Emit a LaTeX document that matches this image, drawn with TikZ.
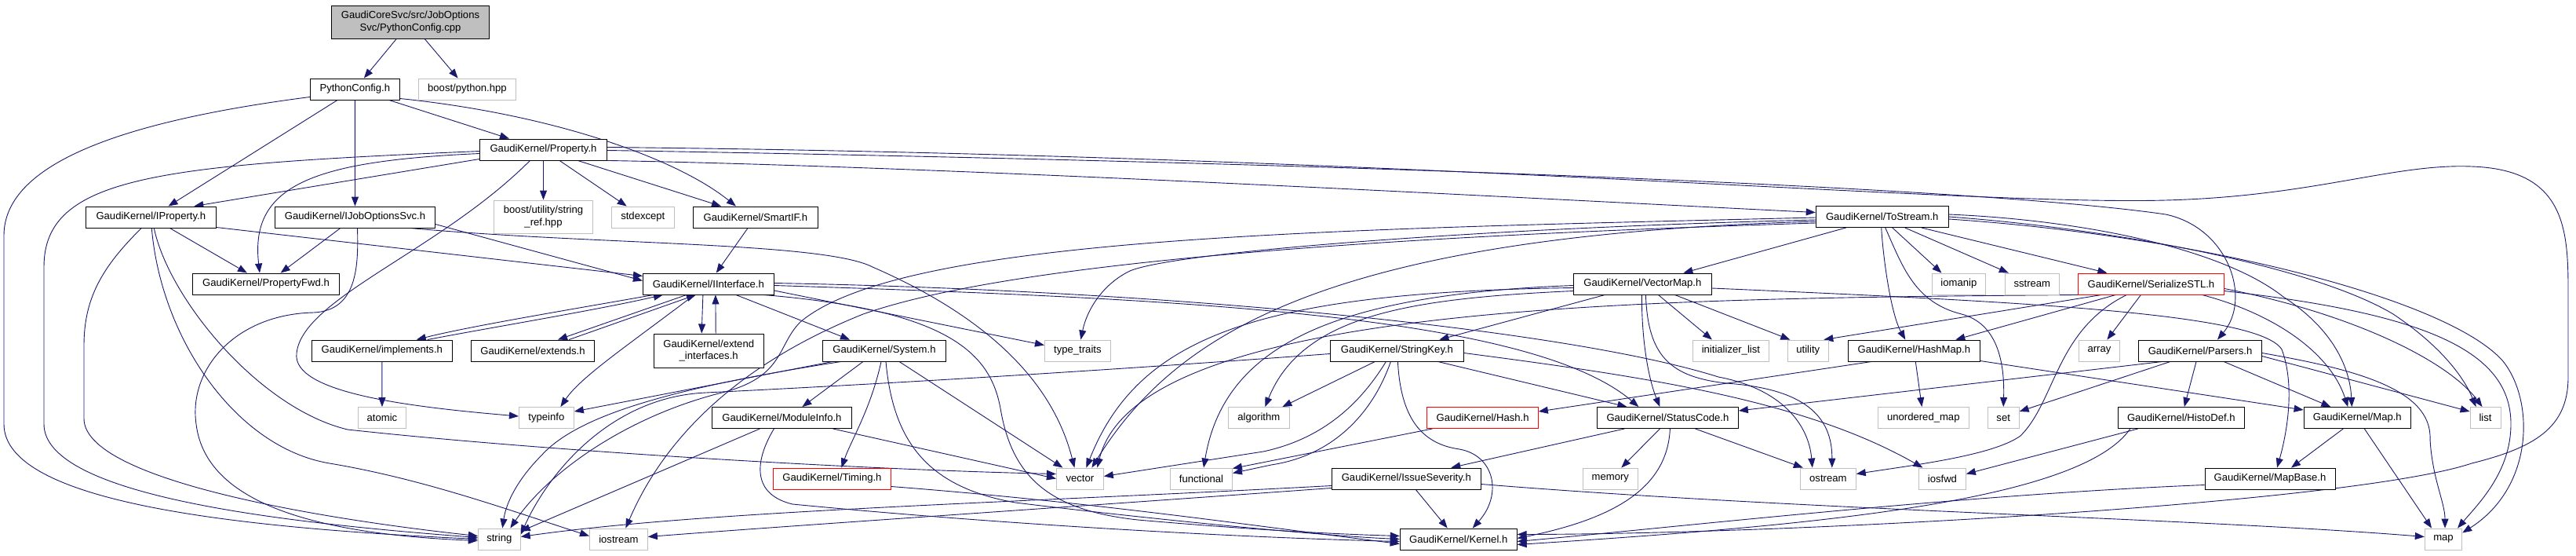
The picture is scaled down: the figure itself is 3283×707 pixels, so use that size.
\documentclass[tikz,border=0pt]{standalone}
\usepackage{fontspec}
\setmainfont{Liberation Sans}
\usetikzlibrary{arrows.meta}
\pgfdeclarelayer{bg}
\pgfsetlayers{bg,main}
\definecolor{mblue}{HTML}{191970}
\definecolor{gbox}{HTML}{BFBFBF}
\begin{document}
\begin{tikzpicture}[x=1pt,y=-1pt,
  box/.style={draw=black, fill=white, line width=0.9pt, inner sep=0pt, minimum height=27pt, align=center, font=\fontsize{13.1}{15.5}\selectfont},
  sysbox/.style={box, draw=gbox},
  redbox/.style={box, draw=red},
  edg/.style={draw=mblue, line width=0.9pt, -{Triangle[length=12pt,width=9pt]}}]
\useasboundingbox (0,0) rectangle (3283,707);
% nodes
\node[box, fill=gbox, minimum width=201pt, minimum height=42pt] (root) at (523,28) {GaudiCoreSvc/src/JobOptions\\Svc/PythonConfig.cpp};
\node[box, minimum width=114pt] (pyh) at (452.3,113.5) {PythonConfig.h};
\node[sysbox, minimum width=124pt] (bpy) at (595.4,113.5) {boost/python.hpp};
\node[box, minimum width=166pt] (iprop) at (192.3,276.5) {GaudiKernel/IProperty.h};
\node[box, minimum width=204pt] (ijob) at (452.5,276.5) {GaudiKernel/IJobOptionsSvc.h};
\node[box, minimum width=187pt] (pfwd) at (339,361.5) {GaudiKernel/PropertyFwd.h};
\node[box, minimum width=162pt] (prop) at (692.5,190.5) {GaudiKernel/Property.h};
\node[sysbox, minimum width=126pt, minimum height=42pt] (sref) at (692.5,276) {boost/utility/string\\\_ref.hpp};
\node[sysbox, minimum width=80pt] (stdex) at (819.3,276.5) {stdexcept};
\node[box, minimum width=159pt] (smart) at (962.9,276.5) {GaudiKernel/SmartIF.h};
\node[box, minimum width=167pt] (iint) at (902.9,361.5) {GaudiKernel/IInterface.h};
\node[box, minimum width=178.5pt] (impl) at (486.8,446.5) {GaudiKernel/implements.h};
\node[sysbox, minimum width=61pt] (atomic) at (487,532) {atomic};
\node[box, minimum width=157pt] (ext) at (679,446.5) {GaudiKernel/extends.h};
\node[box, minimum width=140pt, minimum height=43pt] (extif) at (903.2,446.5) {GaudiKernel/extend\\\_interfaces.h};
\node[box, minimum width=156.5pt] (sys) at (1127,446.5) {GaudiKernel/System.h};
\node[sysbox, minimum width=70pt] (typeinfo) at (696.4,532) {typeinfo};
\node[box, minimum width=178pt] (modinfo) at (996.4,532) {GaudiKernel/ModuleInfo.h};
\node[redbox, minimum width=150pt] (timing) at (1060.4,609.5) {GaudiKernel/Timing.h};
\node[sysbox, minimum width=54pt] (string) at (636.3,686.5) {string};
\node[sysbox, minimum width=74pt] (iostream) at (788.4,686.5) {iostream};
\node[sysbox, minimum width=84pt] (ttraits) at (1373.4,446.5) {type\_traits};
\node[sysbox, minimum width=60pt] (vector) at (1376.4,609.5) {vector};
\node[sysbox, minimum width=79pt] (functional) at (1531,609.5) {functional};
\node[sysbox, minimum width=78pt] (algorithm) at (1604.3,532) {algorithm};
\node[box, minimum width=176pt] (vecmap) at (2093.4,361.5) {GaudiKernel/VectorMap.h};
\node[box, minimum width=170pt] (strkey) at (1780.4,446.5) {GaudiKernel/StringKey.h};
\node[redbox, minimum width=141.5pt] (hash) at (1889.6,532) {GaudiKernel/Hash.h};
\node[box, minimum width=180pt] (status) at (2125.4,532) {GaudiKernel/StatusCode.h};
\node[box, minimum width=190pt] (issue) at (1792.3,609.5) {GaudiKernel/IssueSeverity.h};
\node[sysbox, minimum width=70pt] (memory) at (2052.3,609.5) {memory};
\node[box, minimum width=149pt] (kernel) at (1858.7,686.5) {GaudiKernel/Kernel.h};
\node[box, minimum width=169pt] (tostream) at (2398.7,276) {GaudiKernel/ToStream.h};
\node[sysbox, minimum width=68pt] (iomanip) at (2496.4,361.5) {iomanip};
\node[sysbox, minimum width=69pt] (sstream) at (2589.8,361.5) {sstream};
\node[redbox, minimum width=186pt] (serial) at (2741.4,361.5) {GaudiKernel/SerializeSTL.h};
\node[sysbox, minimum width=97pt] (initlist) at (2205.9,446.5) {initializer\_list};
\node[sysbox, minimum width=52pt] (utility) at (2304.3,446.5) {utility};
\node[box, minimum width=168pt] (hashmap) at (2439.3,446.5) {GaudiKernel/HashMap.h};
\node[sysbox, minimum width=52pt] (array) at (2675.4,446.5) {array};
\node[sysbox, minimum width=116pt] (unmap) at (2451.3,532) {unordered\_map};
\node[sysbox, minimum width=40pt] (set) at (2553.2,532) {set};
\node[sysbox, minimum width=71pt] (ostream) at (2329.8,609.5) {ostream};
\node[sysbox, minimum width=60pt] (iosfwd) at (2475.4,609.5) {iosfwd};
\node[box, minimum width=157pt] (parsers) at (2804,446.5) {GaudiKernel/Parsers.h};
\node[box, minimum width=161pt] (histodef) at (2779.8,532) {GaudiKernel/HistoDef.h};
\node[box, minimum width=136.5pt] (maph) at (3004.3,532) {GaudiKernel/Map.h};
\node[sysbox, minimum width=39pt] (list) at (3167.5,532) {list};
\node[box, minimum width=166pt] (mapbase) at (2893,609.5) {GaudiKernel/MapBase.h};
\node[sysbox, minimum width=47.5pt] (map) at (3114,686.5) {map};
\begin{pgfonlayer}{bg}
\fill[white] (0,0) rectangle (3283,707);
% root
\draw[edg] (root) -- (pyh);
\draw[edg] (root) -- (bpy);
% PythonConfig.h
\draw[edg] (pyh) -- (iprop);
\draw[edg] (pyh) -- (ijob);
\draw[edg] (pyh) -- (prop);
\draw[edg] ([yshift=-12pt]pyh.east) .. controls (700,145) and (860,200) .. ([xshift=-25pt]smart.north);
\draw[edg] ([yshift=-10pt]pyh.west) .. controls (150,155) and (5,210) .. (5,300) -- (5,540) .. controls (5,640) and (300,672) .. (string.west);
% Property.h
\draw[edg] ([yshift=-12pt]prop.west) -- ([xshift=55pt]iprop.north);
\draw[edg] ([yshift=-5pt]prop.west) .. controls (400,205) and (318,235) .. ([xshift=-8pt]pfwd.north);
\draw[edg] ([yshift=-2pt]prop.west) .. controls (200,210) and (56,225) .. (56,340) -- (56,540) .. controls (56,630) and (350,665) .. ([yshift=2pt]string.west);
\draw[edg] (prop) -- (sref);
\draw[edg] (prop) -- (stdex);
\draw[edg] (prop) -- (smart);
\draw[edg] (prop.south east) .. controls (1200,212) and (1900,250) .. ([yshift=5.5pt]tostream.west);
\draw[edg] ([yshift=-1pt]prop.east) .. controls (1600,205) and (2500,235) .. (2760,273) .. controls (2840,290) and (2870,380) .. ([xshift=22pt]parsers.north);
\draw[edg] ([yshift=3pt]prop.east) .. controls (1800,198) and (2500,262) .. (2760,255) .. controls (2950,250) and (3050,208) .. (3150,212) .. controls (3268,216) and (3273,290) .. (3273,370) -- (3273,480) .. controls (3273,545) and (3230,570) .. (3150,590) .. controls (3000,640) and (2300,680) .. ([yshift=6pt]kernel.east);
\draw[edg] ([xshift=-17pt]prop.south) .. controls (560,320) and (385,380) .. (378,450) .. controls (372,500) and (520,518) .. ([yshift=2pt]typeinfo.west);
% IProperty.h
\draw[edg] (iprop) -- (pfwd);
\draw[edg] ([yshift=-13pt]iprop.east) -- ([yshift=10pt]iint.west);
\draw[edg] ([xshift=-12pt]iprop.south) .. controls (130,340) and (107,380) .. (107,440) -- (107,533) .. controls (107,610) and (400,660) .. ([yshift=4pt]string.west);
\draw[edg] ([xshift=4pt]iprop.south) .. controls (215,380) and (330,520) .. (443,547) .. controls (700,575) and (1100,598) .. ([yshift=6pt]vector.west);
\draw[edg] ([xshift=1pt]iprop.south) .. controls (205,430) and (300,570) .. (420,590) .. controls (540,610) and (650,650) .. ([yshift=4pt]iostream.west);
% IJobOptionsSvc.h
\draw[edg] (ijob) -- (pfwd);
\draw[edg] ([yshift=-9pt]ijob.east) -- ([yshift=4pt]iint.west);
\draw[edg] ([xshift=3pt]ijob.south) .. controls (457,340) and (455,395) .. (400,398) .. controls (300,400) and (240,470) .. (250,540) .. controls (262,640) and (400,680) .. ([yshift=-2pt]string.west);
\draw[edg] ([xshift=70pt]ijob.south) .. controls (760,312) and (1050,308) .. (1112,340) .. controls (1250,400) and (1340,480) .. ([xshift=-7pt]vector.north);
% SmartIF.h
\draw[edg] (smart) -- (iint);
% IInterface.h
\draw[edg] ([xshift=-70pt]iint.south) .. controls (740,392) and (600,415) .. ([xshift=44pt]impl.north);
\draw[edg] ([xshift=58pt]impl.north) .. controls (620,418) and (760,395) .. ([xshift=-58pt]iint.south);
\draw[edg] ([xshift=-28pt]iint.south) -- ([xshift=32pt]ext.north);
\draw[edg] ([xshift=46pt]ext.north) -- ([xshift=-16pt]iint.south);
\draw[edg] ([xshift=-7pt]iint.south) -- ([xshift=-9pt]extif.north);
\draw[edg] ([xshift=9pt]extif.north) -- ([xshift=9pt]iint.south);
\draw[edg] ([xshift=35pt]iint.south) -- ([xshift=-44pt]sys.north);
\draw[edg] ([xshift=-18pt]iint.south) .. controls (800,440) and (740,480) .. ([xshift=18pt]typeinfo.north);
\draw[edg] ([yshift=-8.5pt]iint.east) -- ([yshift=7pt]ttraits.west);
\draw[edg] ([yshift=-2pt]iint.east) .. controls (1500,380) and (1950,400) .. ([xshift=-37pt]status.north);
\draw[edg] ([yshift=1pt]iint.east) .. controls (1500,370) and (2000,420) .. (2190,480) .. controls (2270,495) and (2305,540) .. ([xshift=-20pt]ostream.north);
\draw[edg] ([xshift=70pt]iint.south) .. controls (1210,395) and (1262,450) .. (1275,520) .. controls (1290,610) and (1340,650) .. (1450,662) .. controls (1600,675) and (1700,680) .. ([yshift=4pt]kernel.west);
% implements.h
\draw[edg] (impl) -- (atomic);
% System.h
\draw[edg] ([xshift=-66pt]sys.south) -- ([yshift=8pt]typeinfo.east);
\draw[edg] ([xshift=-55pt]sys.south) .. controls (850,495) and (735,530) .. (690,580) .. controls (660,610) and (645,640) .. ([xshift=4pt]string.north);
\draw[edg] ([xshift=-27pt]sys.south) -- ([xshift=26pt]modinfo.north);
\draw[edg] ([xshift=-4pt]sys.south) .. controls (1110,520) and (1085,560) .. ([xshift=12pt]timing.north);
\draw[edg] ([xshift=2pt]sys.south) .. controls (1138,560) and (1180,620) .. (1294,640) .. controls (1500,665) and (1700,683) .. (kernel.west);
\draw[edg] ([xshift=19pt]sys.south) -- ([xshift=-22pt]vector.north);
% ModuleInfo.h
\draw[edg] ([xshift=-28pt]modinfo.south) -- ([yshift=10pt]string.east);
\draw[edg] ([xshift=-10pt]modinfo.south) .. controls (960,590) and (960,630) .. (1010,642) .. controls (1300,670) and (1600,685) .. ([yshift=-3pt]kernel.west);
\draw[edg] ([xshift=65pt]modinfo.south) -- (vector.west);
% Timing.h
\draw[edg] ([yshift=-10pt]timing.east) .. controls (1400,640) and (1600,670) .. ([yshift=-6pt]kernel.west);
% StringKey.h
\draw[edg] ([yshift=-4pt]strkey.west) .. controls (1300,480) and (1000,495) .. (900,500) .. controls (780,505) and (700,600) .. ([yshift=6pt]string.east);
\draw[edg] ([xshift=-28pt]strkey.south) -- ([xshift=30pt]algorithm.north);
\draw[edg] ([xshift=-14pt]strkey.south) .. controls (1730,520) and (1680,560) .. (1610,575) -- ([yshift=3pt]vector.east);
\draw[edg] ([xshift=-8pt]strkey.south) .. controls (1750,525) and (1700,580) .. (1620,592) -- ([yshift=7pt]functional.east);
\draw[edg] ([xshift=1pt]strkey.south) .. controls (1785,530) and (1810,565) .. (1860,572) .. controls (1905,580) and (1915,630) .. ([xshift=18pt]kernel.north);
\draw[edg] ([xshift=52pt]strkey.south) -- ([xshift=-52pt]status.north);
\draw[edg] ([yshift=-3pt]strkey.east) .. controls (2100,480) and (2300,510) .. ([xshift=-25pt]iosfwd.north);
% VectorMap.h
\draw[edg] ([xshift=-48pt]vecmap.south) -- ([xshift=54pt]strkey.north);
\draw[edg] ([yshift=-5pt]vecmap.west) .. controls (1600,372) and (1450,430) .. ([xshift=8pt]vector.north);
\draw[edg] ([yshift=-9pt]vecmap.west) .. controls (1800,380) and (1660,400) .. ([xshift=8pt]algorithm.north);
\draw[edg] ([yshift=-2pt]vecmap.west) .. controls (1700,375) and (1560,440) .. ([xshift=3pt]functional.north);
\draw[edg] ([xshift=41pt]vecmap.south) -- ([xshift=-23pt]utility.north);
\draw[edg] ([xshift=20pt]vecmap.south) -- ([xshift=-24pt]initlist.north);
\draw[edg] ([xshift=-1pt]vecmap.south) .. controls (2092,430) and (2100,480) .. ([xshift=-10pt]status.north);
\draw[edg] ([xshift=4pt]vecmap.south) .. controls (2100,455) and (2130,480) .. (2200,488) .. controls (2300,495) and (2335,530) .. ([xshift=5pt]ostream.north);
\draw[edg] ([yshift=-5.5pt]vecmap.east) .. controls (2600,385) and (2880,400) .. (2908,445) .. controls (2925,490) and (2915,550) .. ([xshift=9pt]mapbase.north);
% StatusCode.h
\draw[edg] ([xshift=-55pt]status.south) -- ([xshift=57pt]issue.north);
\draw[edg] ([xshift=-10pt]status.south) -- ([xshift=14pt]memory.north);
\draw[edg] ([xshift=3pt]status.south) .. controls (2125,620) and (2060,660) .. ([yshift=1pt]kernel.east);
\draw[edg] ([xshift=35pt]status.south) -- ([xshift=-32pt]ostream.north);
% IssueSeverity.h
\draw[edg] ([xshift=12pt]issue.south) -- ([xshift=-14pt]kernel.north);
\draw[edg] ([yshift=-9pt]issue.west) .. controls (1300,640) and (900,650) .. ([yshift=3pt]string.east);
\draw[edg] ([yshift=-12pt]issue.west) .. controls (1300,650) and (1000,670) .. ([yshift=3pt]iostream.east);
\draw[edg] ([yshift=-7pt]issue.east) .. controls (2300,650) and (2800,660) .. ([yshift=3pt]map.west);
% Hash.h
\draw[edg] ([xshift=-64pt]hash.south) -- ([yshift=13pt]functional.east);
% ToStream.h
\draw[edg] ([xshift=-46pt]tostream.south) -- ([xshift=52pt]vecmap.north);
\draw[edg] ([xshift=-1pt]tostream.south) .. controls (2400,330) and (2410,400) .. ([xshift=-11pt]hashmap.north);
\draw[edg] ([xshift=4pt]tostream.south) .. controls (2425,340) and (2440,385) .. (2500,400) .. controls (2545,412) and (2555,460) .. (set.north);
\draw[edg] ([xshift=13pt]tostream.south) -- ([xshift=-22pt]iomanip.north);
\draw[edg] ([xshift=29pt]tostream.south) -- ([xshift=-30pt]sstream.north);
\draw[edg] ([xshift=50pt]tostream.south) -- ([xshift=-56pt]serial.north);
\draw[edg] ([yshift=3pt]tostream.east) .. controls (2650,280) and (2830,315) .. (2910,378) .. controls (2975,420) and (2995,470) .. ([xshift=-7pt]maph.north);
\draw[edg] (tostream.east) .. controls (2700,292) and (2950,340) .. (3050,400) .. controls (3110,440) and (3140,480) .. ([xshift=-12pt]list.north);
\draw[edg] ([yshift=-3pt]tostream.east) .. controls (2800,300) and (3120,380) .. (3190,460) .. controls (3230,510) and (3230,620) .. ([yshift=8pt]map.east);
\draw[edg] ([yshift=-6pt]tostream.west) .. controls (1700,300) and (1500,420) .. ([xshift=15pt]vector.north);
\draw[edg] ([yshift=-4pt]tostream.west) .. controls (1900,290) and (1500,320) .. (1440,345) .. controls (1405,362) and (1385,395) .. ([xshift=4pt]ttraits.north);
\draw[edg] ([yshift=-8pt]tostream.west) .. controls (1800,300) and (1300,330) .. (1100,400) .. controls (950,460) and (850,550) .. ([xshift=9pt]iostream.north);
\draw[edg] ([yshift=-1pt]tostream.west) .. controls (1700,292) and (1150,300) .. (1020,410) .. controls (990,440) and (1000,480) .. (920,500) .. controls (800,530) and (700,600) .. ([xshift=14pt]string.north);
% SerializeSTL.h
\draw[edg] ([xshift=-63pt]serial.south) -- ([xshift=20pt]utility.north);
\draw[edg] ([xshift=-45pt]serial.south) -- ([xshift=53pt]hashmap.north);
\draw[edg] ([xshift=-13pt]serial.south) -- ([xshift=10pt]array.north);
\draw[edg] ([xshift=-31pt]serial.south) .. controls (2620,420) and (2620,510) .. (2575,555) .. controls (2540,580) and (2440,592) .. ([yshift=6pt]ostream.east);
\draw[edg] ([xshift=65pt]serial.south) .. controls (2900,400) and (2970,450) .. ([xshift=-12pt]maph.north);
\draw[edg] ([yshift=-6pt]serial.east) .. controls (3000,400) and (3120,460) .. ([xshift=-4pt]list.north);
\draw[edg] ([yshift=-9pt]serial.east) .. controls (3100,400) and (3200,450) .. (3200,540) .. controls (3200,600) and (3160,640) .. ([xshift=18pt]map.north);
\draw[edg] ([xshift=-90pt]serial.south) .. controls (2100,380) and (1450,385) .. ([xshift=22pt]vector.north);
% HashMap.h
\draw[edg] ([xshift=-54pt]hashmap.south) -- ([yshift=8pt]hash.east);
\draw[edg] (hashmap) -- (unmap);
\draw[edg] ([yshift=-13pt]hashmap.east) -- ([yshift=10pt]maph.west);
% Parsers.h
\draw[edg] ([xshift=-5pt]parsers.south) -- ([xshift=4pt]histodef.north);
\draw[edg] ([xshift=30pt]parsers.south) -- ([xshift=-34pt]maph.north);
\draw[edg] ([yshift=-7pt]parsers.east) -- ([yshift=8pt]list.west);
\draw[edg] ([yshift=-3pt]parsers.east) .. controls (3000,470) and (3100,495) .. (3097,560) .. controls (3100,610) and (3116,640) .. ([xshift=2pt]map.north);
\draw[edg] ([xshift=-38pt]parsers.south) -- ([yshift=8pt]set.east);
\draw[edg] ([xshift=-48pt]parsers.south) -- ([yshift=9pt]status.east);
% HistoDef.h
\draw[edg] ([xshift=-55pt]histodef.south) -- ([yshift=6pt]iosfwd.east);
\draw[edg] ([xshift=-65pt]histodef.south) .. controls (2650,640) and (2300,670) .. ([yshift=-7pt]kernel.east);
% Map.h
\draw[edg] ([xshift=-18pt]maph.south) -- ([xshift=27pt]mapbase.north);
\draw[edg] ([xshift=9pt]maph.south) -- ([xshift=-15pt]map.north);
% MapBase.h
\draw[edg] ([yshift=-8pt]mapbase.west) .. controls (2500,630) and (2150,670) .. ([yshift=-3pt]kernel.east);
\end{pgfonlayer}
\end{tikzpicture}
\end{document}
